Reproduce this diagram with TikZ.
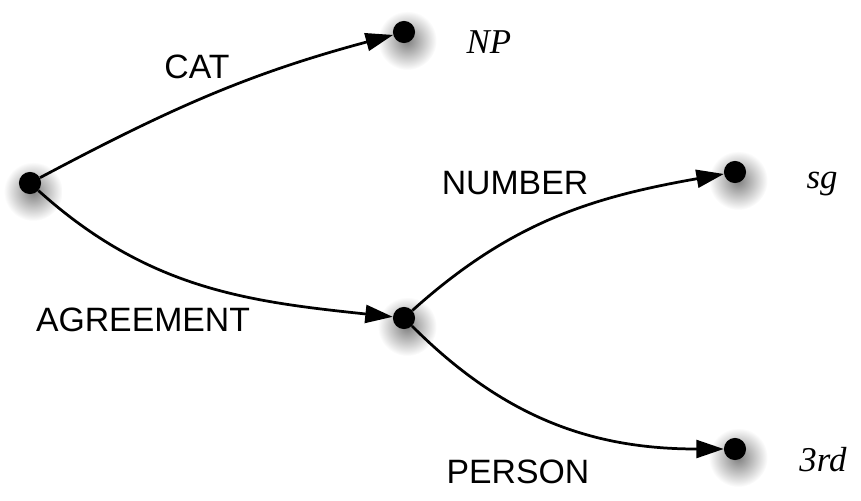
\documentclass[tikz,border=0pt]{standalone}
\usepackage{fontspec}
\setmainfont{Liberation Serif}
\setsansfont{Liberation Sans}
\usetikzlibrary{arrows.meta,backgrounds}

\tikzset{
 dot/.style={circle,fill=black,inner sep=0pt,minimum size=21pt},
 glow/.style={inner color=black!50,outer color=white},
 feat/.style={font=\sffamily\fontsize{32}{36}\selectfont},
 val/.style={font=\itshape\fontsize{33}{36}\selectfont},
 arc/.style={line width=2.6pt,-{Triangle[length=26pt,width=17pt]}}
}

\begin{document}
\begin{tikzpicture}[x=0.0333cm,y=-0.0333cm]
 \useasboundingbox (0,0) rectangle (861,500);

 \node [dot] (root) at (30,183) {};
 \node [dot] (np) at (404,32) {};
 \node [dot] (agr) at (404,318) {};
 \node [dot] (sg) at (735,172) {};
 \node [dot] (third) at (735,449) {};

 \node [val] (npval) at (489,42) {NP};
 \node [val] (sgval) at (822,184) {sg};
 \node [val] (thirdval) at (823,460) {3rd};

 \node [feat] (cat) at (197,67) {CAT};
 \node [feat] (number) at (515,183) {NUMBER};
 \node [feat] (agreement) at (143,320) {AGREEMENT};
 \node [feat] (person) at (518,472) {PERSON};

 \draw [arc] (root) to [out=28,in=195] (np);
 \draw [arc] (root) to [out=-42,in=174] (agr);
 \draw [arc] (agr) to [out=42,in=190] (sg);
 \draw [arc] (agr) to [out=-45,in=180] (third);

 % soft shadows under the dots
 \begin{scope}[on background layer]
  \foreach \n in {root,np,agr,sg,third}
   \shade [glow] ([shift={(3pt,-8pt)}]\n.center) circle (28pt);
 \end{scope}

\end{tikzpicture}
\end{document}
